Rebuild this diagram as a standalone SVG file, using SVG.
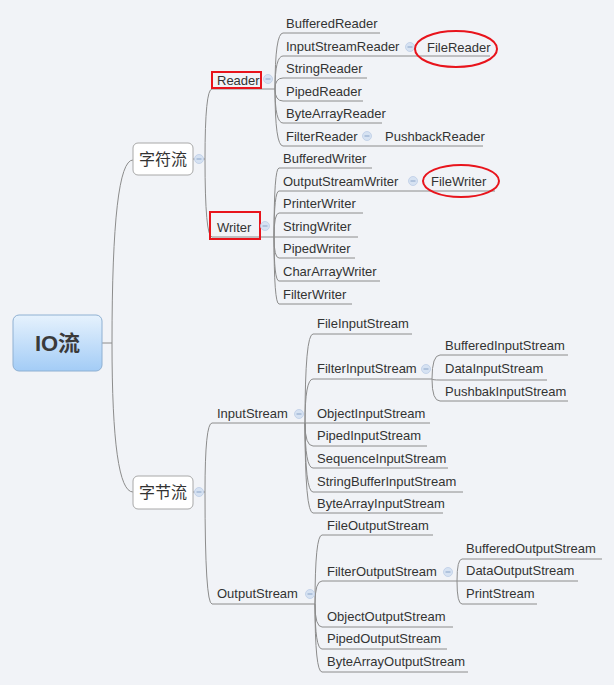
<svg xmlns="http://www.w3.org/2000/svg" width="614" height="685" viewBox="0 0 614 685">
<defs>
<linearGradient id="rootg" x1="0" y1="0" x2="0" y2="1">
<stop offset="0" stop-color="#e6f2fd"/>
<stop offset="1" stop-color="#a3ccf6"/>
</linearGradient>
<style>
text{font-family:"Liberation Sans","Noto Sans CJK SC",sans-serif;fill:#333;}
.t{font-size:13px;}
.cn{font-size:16px;}
.ul{stroke:#8c8c8c;stroke-width:1;fill:none;}
.c{stroke:#8c8c8c;stroke-width:1;fill:none;}
.box{fill:#fff;stroke:#a8a8a8;stroke-width:1;}
.hl{fill:none;stroke:#e8141c;stroke-width:2;}
.col circle{fill:#d6e2f2;stroke:#bccde6;stroke-width:0.8;}
.col line{stroke:#8aa4c8;stroke-width:1;}
</style>
</defs>
<rect width="614" height="685" fill="#f1f3f7"/>

<g id="connectors">
<path class="c" d="M102,343 H112"/>
<path class="c" d="M112,343 Q112,160 133,160"/>
<path class="c" d="M112,343 Q112,492 133,492"/>
<path class="c" d="M193,159 H205"/>
<path class="c" d="M205,159 Q205,89 212,89"/>
<path class="c" d="M205,159 Q205,237 212,237"/>
<path class="c" d="M193,492 H205"/>
<path class="c" d="M205,492 Q205,423 212,423"/>
<path class="c" d="M205,492 Q205,604 212,604"/>
<!-- Reader children -->
<path class="c" d="M275,89 Q275,33 283,33"/>
<path class="c" d="M275,89 Q275,56 283,56"/>
<path class="c" d="M275,89 Q275,78 283,78"/>
<path class="c" d="M275,89 Q275,101 283,101"/>
<path class="c" d="M275,89 Q275,123 283,123"/>
<path class="c" d="M275,89 Q275,146 283,146"/>
<!-- Writer children -->
<path class="c" d="M274,237 Q274,168 279,168"/>
<path class="c" d="M274,237 Q274,191 279,191"/>
<path class="c" d="M274,237 Q274,213 279,213"/>
<path class="c" d="M274,237 H279"/>
<path class="c" d="M274,237 Q274,258 279,258"/>
<path class="c" d="M274,237 Q274,281 279,281"/>
<path class="c" d="M274,237 Q274,304 279,304"/>
<!-- InputStream children -->
<path class="c" d="M305,423 Q305,334 313,334"/>
<path class="c" d="M305,423 Q305,379 313,379"/>
<path class="c" d="M305,423 H313"/>
<path class="c" d="M305,423 Q305,446 313,446"/>
<path class="c" d="M305,423 Q305,468 313,468"/>
<path class="c" d="M305,423 Q305,492 313,492"/>
<path class="c" d="M305,423 Q305,513 313,513"/>
<!-- FilterInputStream children -->
<path class="c" d="M432,379 Q432,355 440,355"/>
<path class="c" d="M432,379 Q432,380 440,380"/>
<path class="c" d="M432,379 Q432,401 440,401"/>
<!-- OutputStream children -->
<path class="c" d="M315,604 Q315,535 322,535"/>
<path class="c" d="M315,604 Q315,581 322,581"/>
<path class="c" d="M315,604 Q315,627 322,627"/>
<path class="c" d="M315,604 Q315,649 322,649"/>
<path class="c" d="M315,604 Q315,672 322,672"/>
<!-- FilterOutputStream children -->
<path class="c" d="M457,581 Q457,559 462,559"/>
<path class="c" d="M457,581 H462"/>
<path class="c" d="M457,581 Q457,604 462,604"/>
</g>

<g id="root">
<rect x="13" y="315" width="89" height="56" rx="6" fill="url(#rootg)" stroke="#8fb0d2" stroke-width="1"/>
<text x="57.5" y="351" text-anchor="middle" style="font-size:22px;font-weight:bold;fill:#3a3a3a">IO流</text>
</g>

<g id="zifuliu">
<rect class="box" x="133" y="143" width="60" height="32" rx="5"/>
<text class="cn" x="163" y="165" text-anchor="middle">字符流</text>
<g class="col"><circle cx="199" cy="159" r="4.5"/><line x1="196.5" y1="159" x2="201.5" y2="159"/></g>
</g>

<g id="zijieliu">
<rect class="box" x="133" y="476" width="60" height="33" rx="5"/>
<text class="cn" x="163" y="498" text-anchor="middle">字节流</text>
<g class="col"><circle cx="199" cy="492" r="4.5"/><line x1="196.5" y1="492" x2="201.5" y2="492"/></g>
</g>

<g id="reader">
<line class="ul" x1="212" y1="89" x2="275" y2="89"/>
<text class="t" x="217" y="84.5">Reader</text>
<rect class="hl" x="212" y="72" width="49" height="16"/>
<g class="col"><circle cx="268" cy="79" r="4.5"/><line x1="265.5" y1="79" x2="270.5" y2="79"/></g>
</g>
<g id="writer">
<line class="ul" x1="212" y1="237" x2="274" y2="237"/>
<text class="t" x="217" y="231.5">Writer</text>
<rect class="hl" x="210" y="212" width="50" height="27"/>
<g class="col"><circle cx="265" cy="226" r="4.5"/><line x1="262.5" y1="226" x2="267.5" y2="226"/></g>
</g>

<g id="BufferedReader"><line class="ul" x1="283" y1="33" x2="380" y2="33"/><text class="t" x="286" y="27.5">BufferedReader</text></g>
<g id="InputStreamReader"><line class="ul" x1="283" y1="56" x2="490" y2="56"/><text class="t" x="286" y="50.5">InputStreamReader</text>
<g class="col"><circle cx="410" cy="47" r="4.5"/><line x1="407.5" y1="47" x2="412.5" y2="47"/></g></g>
<g id="FileReader"><text class="t" x="427" y="51.5">FileReader</text><ellipse class="hl" cx="456" cy="49" rx="41" ry="18"/></g>
<g id="StringReader"><line class="ul" x1="283" y1="78" x2="367" y2="78"/><text class="t" x="286" y="72.5">StringReader</text></g>
<g id="PipedReader"><line class="ul" x1="283" y1="101" x2="363" y2="101"/><text class="t" x="286" y="95.5">PipedReader</text></g>
<g id="ByteArrayReader"><line class="ul" x1="283" y1="123" x2="382" y2="123"/><text class="t" x="286" y="117.5">ByteArrayReader</text></g>
<g id="FilterReader"><line class="ul" x1="283" y1="146" x2="483" y2="146"/><text class="t" x="286" y="140.5">FilterReader</text>
<g class="col"><circle cx="367" cy="136" r="4.5"/><line x1="364.5" y1="136" x2="369.5" y2="136"/></g></g>
<g id="PushbackReader"><text class="t" x="385" y="140.5">PushbackReader</text></g>

<g id="BufferedWriter"><line class="ul" x1="279" y1="168" x2="372" y2="168"/><text class="t" x="283" y="162.5">BufferedWriter</text></g>
<g id="OutputStreamWriter"><line class="ul" x1="279" y1="191" x2="495" y2="191"/><text class="t" x="283" y="185.5">OutputStreamWriter</text>
<g class="col"><circle cx="413" cy="181" r="4.5"/><line x1="410.5" y1="181" x2="415.5" y2="181"/></g></g>
<g id="FileWriter"><text class="t" x="431" y="185.5">FileWriter</text><ellipse class="hl" cx="461" cy="181" rx="38" ry="16"/></g>
<g id="PrinterWriter"><line class="ul" x1="279" y1="213" x2="363" y2="213"/><text class="t" x="283" y="207.5">PrinterWriter</text></g>
<g id="StringWriter"><line class="ul" x1="279" y1="237" x2="358" y2="237"/><text class="t" x="283" y="230.5">StringWriter</text></g>
<g id="PipedWriter"><line class="ul" x1="279" y1="258" x2="355" y2="258"/><text class="t" x="283" y="252.5">PipedWriter</text></g>
<g id="CharArrayWriter"><line class="ul" x1="279" y1="281" x2="380" y2="281"/><text class="t" x="283" y="275.5">CharArrayWriter</text></g>
<g id="FilterWriter"><line class="ul" x1="279" y1="304" x2="352" y2="304"/><text class="t" x="283" y="298.5">FilterWriter</text></g>

<g id="InputStream">
<line class="ul" x1="212" y1="423" x2="305" y2="423"/>
<text class="t" x="217" y="417.5">InputStream</text>
<g class="col"><circle cx="299" cy="414" r="4.5"/><line x1="296.5" y1="414" x2="301.5" y2="414"/></g>
</g>
<g id="FileInputStream"><line class="ul" x1="313" y1="334" x2="412" y2="334"/><text class="t" x="317" y="327.5">FileInputStream</text></g>
<g id="FilterInputStream"><line class="ul" x1="313" y1="379" x2="432" y2="379"/><text class="t" x="317" y="372.5">FilterInputStream</text>
<g class="col"><circle cx="426" cy="369" r="4.5"/><line x1="423.5" y1="369" x2="428.5" y2="369"/></g></g>
<g id="BufferedInputStream"><line class="ul" x1="440" y1="355" x2="568" y2="355"/><text class="t" x="445" y="349.5">BufferedInputStream</text></g>
<g id="DataInputStream"><line class="ul" x1="440" y1="380" x2="547" y2="380"/><text class="t" x="445" y="372.5">DataInputStream</text></g>
<g id="PushbakInputStream"><line class="ul" x1="440" y1="401" x2="568" y2="401"/><text class="t" x="445" y="395.5">PushbakInputStream</text></g>
<g id="ObjectInputStream"><line class="ul" x1="313" y1="423" x2="430" y2="423"/><text class="t" x="317" y="417.5">ObjectInputStream</text></g>
<g id="PipedInputStream"><line class="ul" x1="313" y1="446" x2="427" y2="446"/><text class="t" x="317" y="439.5">PipedInputStream</text></g>
<g id="SequenceInputStream"><line class="ul" x1="313" y1="468" x2="448" y2="468"/><text class="t" x="317" y="462.5">SequenceInputStream</text></g>
<g id="StringBufferInputStream"><line class="ul" x1="313" y1="492" x2="463" y2="492"/><text class="t" x="317" y="485.5">StringBufferInputStream</text></g>
<g id="ByteArrayInputStream"><line class="ul" x1="313" y1="513" x2="443" y2="513"/><text class="t" x="317" y="507.5">ByteArrayInputStream</text></g>

<g id="OutputStream">
<line class="ul" x1="212" y1="604" x2="315" y2="604"/>
<text class="t" x="217" y="597.5">OutputStream</text>
<g class="col"><circle cx="310" cy="594" r="4.5"/><line x1="307.5" y1="594" x2="312.5" y2="594"/></g>
</g>
<g id="FileOutputStream"><line class="ul" x1="322" y1="535" x2="433" y2="535"/><text class="t" x="327" y="530">FileOutputStream</text></g>
<g id="FilterOutputStream"><line class="ul" x1="322" y1="581" x2="457" y2="581"/><text class="t" x="327" y="575.5">FilterOutputStream</text>
<g class="col"><circle cx="448" cy="572" r="4.5"/><line x1="445.5" y1="572" x2="450.5" y2="572"/></g></g>
<g id="BufferedOutputStream"><line class="ul" x1="462" y1="559" x2="602" y2="559"/><text class="t" x="466" y="552.5">BufferedOutputStream</text></g>
<g id="DataOutputStream"><line class="ul" x1="462" y1="581" x2="578" y2="581"/><text class="t" x="466" y="575">DataOutputStream</text></g>
<g id="PrintStream"><line class="ul" x1="462" y1="604" x2="537" y2="604"/><text class="t" x="466" y="598">PrintStream</text></g>
<g id="ObjectOutputStream"><line class="ul" x1="322" y1="627" x2="453" y2="627"/><text class="t" x="327" y="620.5">ObjectOutputStream</text></g>
<g id="PipedOutputStream"><line class="ul" x1="322" y1="649" x2="447" y2="649"/><text class="t" x="327" y="642.5">PipedOutputStream</text></g>
<g id="ByteArrayOutputStream"><line class="ul" x1="322" y1="672" x2="468" y2="672"/><text class="t" x="327" y="665.5">ByteArrayOutputStream</text></g>
</svg>
